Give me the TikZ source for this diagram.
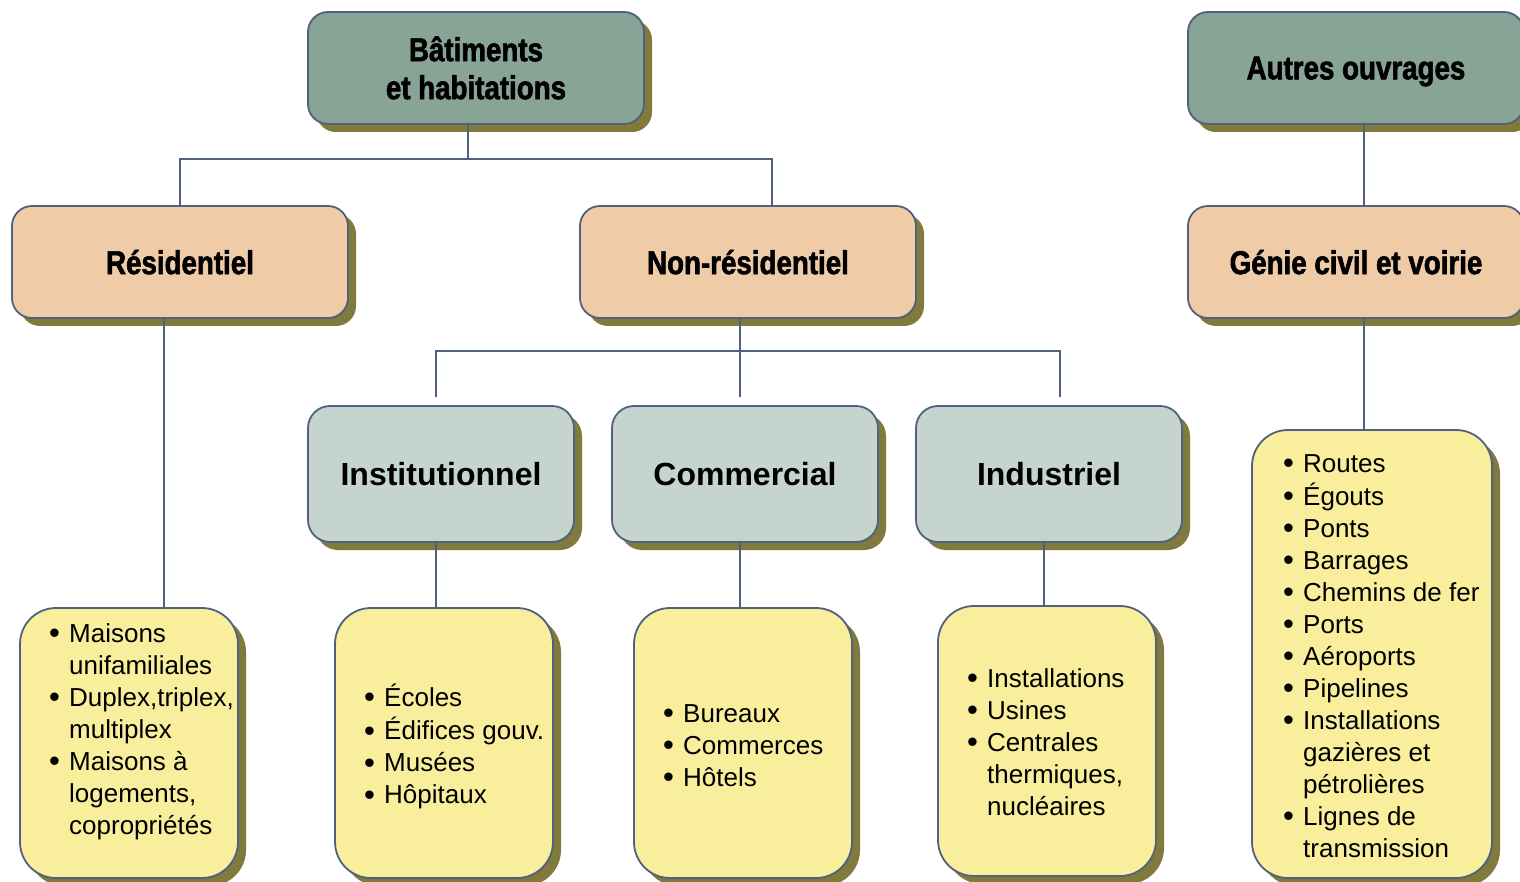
\documentclass[tikz,border=0pt]{standalone}
\usepackage{fontspec}
\setmainfont{Liberation Sans}
\newfontfamily\headfont[FakeStretch=0.84, BoldFeatures={FakeBold=1.8}]{Liberation Sans}
\usetikzlibrary{shadows}

\definecolor{edge}{HTML}{50617F}
\definecolor{olivesh}{HTML}{807A3C}
\definecolor{sage}{HTML}{88A496}
\definecolor{peach}{HTML}{F0CBA8}
\definecolor{mist}{HTML}{C6D4CE}
\definecolor{lemon}{HTML}{F8EE9C}

% bullet and continuation indent for the list boxes
\newcommand\bu{\strut\makebox[20pt][l]{\raisebox{-1.2pt}{\fontsize{31}{32}\selectfont\textbullet}}}
\newcommand\ind{\strut\hspace*{20pt}}

\tikzset{
  box/.style={draw=edge, line width=1.8pt, inner sep=0pt,
    general shadow={fill=olivesh, shadow xshift=8pt, shadow yshift=-8pt}},
  headbox/.style={box, rounded corners=20pt, minimum width=336pt, minimum height=112pt,
    align=center, font=\headfont\bfseries\fontsize{33}{38}\selectfont},
  oneline/.style={text depth=0pt},
  topbox/.style={headbox, fill=sage},
  midbox/.style={headbox, oneline, fill=peach},
  catbox/.style={box, fill=mist, rounded corners=22pt, minimum width=266pt, minimum height=136pt,
    font=\bfseries\fontsize{32}{38}\selectfont},
  listbox/.style={box, fill=lemon, rounded corners=36pt, minimum width=218pt, minimum height=270pt},
  listtext/.style={anchor=north west, inner sep=0pt, align=left,
    font=\fontsize{26}{32}\selectfont},
  conn/.style={draw=edge, line width=1.8pt},
}

\begin{document}
\begin{tikzpicture}[x=1pt,y=-1pt]
\clip (0,0) rectangle (1520,882);
\fill[white] (0,0) rectangle (1520,882);

% top level
\node[topbox] (bat) at (476,68) {Bâtiments\\et habitations};
\node[topbox, oneline] (autres) at (1356,68) {Autres ouvrages};

% second level
\node[midbox] (res) at (180,262) {Résidentiel};
\node[midbox] (nonres) at (748,262) {Non-résidentiel};
\node[midbox] (genie) at (1356,262) {Génie civil et voirie};

% non-residential categories
\node[catbox] (inst) at (441,474) {Institutionnel};
\node[catbox] (comm) at (745,474) {Commercial};
\node[catbox] (indus) at (1049,474) {Industriel};

% list boxes
\node[listbox] (resL) at (129,743) {};
\node[listbox] (instL) at (444,743) {};
\node[listbox] (commL) at (743,743) {};
\node[listbox] (indusL) at (1047,741) {};
\node[listbox, minimum width=240pt, minimum height=448pt] (genieL) at (1372,654) {};

\node[listtext] (resT) at (49,620) {\bu Maisons\\\ind unifamiliales\\\bu Duplex,triplex,\\\ind multiplex\\\bu Maisons à\\\ind logements,\\\ind copropriétés};
\node[listtext] (instT) at (364,684) {\bu Écoles\\\bu Édifices gouv.\\\bu Musées\\\bu Hôpitaux};
\node[listtext] (commT) at (663,700) {\bu Bureaux\\\bu Commerces\\\bu Hôtels};
\node[listtext] (indusT) at (967,665) {\bu Installations\\\bu Usines\\\bu Centrales\\\ind thermiques,\\\ind nucléaires};
\node[listtext] (genieT) at (1283,450) {\bu Routes\\\bu Égouts\\\bu Ponts\\\bu Barrages\\\bu Chemins de fer\\\bu Ports\\\bu Aéroports\\\bu Pipelines\\\bu Installations\\\ind gazières et\\\ind pétrolières\\\bu Lignes de\\\ind transmission};

% connectors
\draw[conn] ([xshift=-8pt]bat.south) -- ++(0,34) -| (res.north);
\draw[conn] ([xshift=-8pt]bat.south) ++(0,34) -| ([xshift=24pt]nonres.north);
\draw[conn] ([xshift=8pt]autres.south) -- ([xshift=8pt]genie.north);

\draw[conn] ([xshift=-16pt]res.south) -- ([xshift=35pt]resL.north);

\draw[conn] ([xshift=-8pt]nonres.south) -- ++(0,32) -| ([xshift=-5pt,yshift=8pt]inst.north);
\draw[conn] ([xshift=-8pt]nonres.south) -- ([xshift=-5pt,yshift=8pt]comm.north);
\draw[conn] ([xshift=-8pt]nonres.south) ++(0,32) -| ([xshift=11pt,yshift=8pt]indus.north);

\draw[conn] ([xshift=-5pt]inst.south) -- ([xshift=-8pt]instL.north);
\draw[conn] ([xshift=-5pt]comm.south) -- ([xshift=-3pt]commL.north);
\draw[conn] ([xshift=-5pt]indus.south) -- ([xshift=-3pt]indusL.north);
\draw[conn] ([xshift=8pt]genie.south) -- ([xshift=-8pt]genieL.north);
\end{tikzpicture}
\end{document}
